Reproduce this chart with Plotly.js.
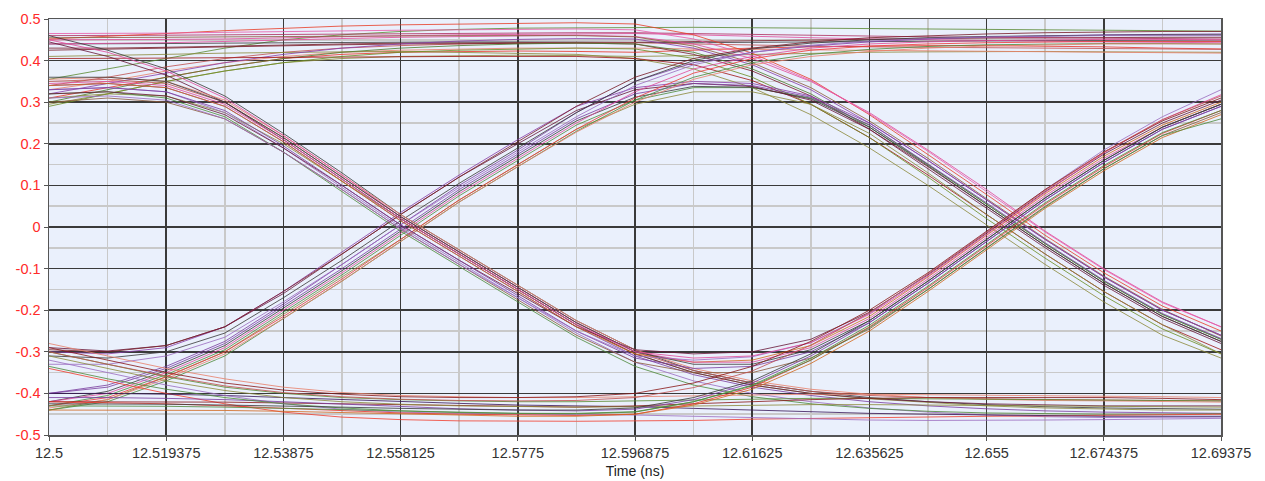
<!DOCTYPE html>
<html>
<head>
<meta charset="utf-8">
<script src="https://cdn.plot.ly/plotly-3.0.1.min.js"></script>
<style>html,body{margin:0;padding:0;background:#fff;}#chart{width:1265px;height:481px;}</style>
</head>
<body>
<div id="chart"></div>
<script>
// Sample times (ns)
const timeNs = [12.5,12.5096875,12.519375,12.5290625,12.53875,12.5484375,12.558125,12.5678125,12.5775,12.5871875,12.596875,12.6065625,12.61625,12.6259375,12.635625,12.6453125,12.655,12.6646875,12.674375,12.6840625,12.69375];

// Axis ticks
const xTickVals = [12.5,12.519375,12.53875,12.558125,12.5775,12.596875,12.61625,12.635625,12.655,12.674375,12.69375];
const xTickText = ["12.5","12.519375","12.53875","12.558125","12.5775","12.596875","12.61625","12.635625","12.655","12.674375","12.69375"];
const yTickVals = [0.5,0.4,0.3,0.2,0.1,0,-0.1,-0.2,-0.3,-0.4,-0.5];
const yTickText = ["0.5","0.4","0.3","0.2","0.1","0","-0.1","-0.2","-0.3","-0.4","-0.5"];

// Pattern 1,1,1 : stays high
const highSteady = [
  [0.355,0.38,0.405,0.43,0.45,0.462,0.47,0.475,0.478,0.479,0.48,0.48,0.479,0.478,0.477,0.476,0.475,0.474,0.473,0.472,0.471],
  [0.45,0.45,0.451,0.452,0.455,0.458,0.46,0.462,0.463,0.464,0.465,0.462,0.458,0.455,0.452,0.45,0.448,0.446,0.445,0.444,0.443],
  [0.43,0.43,0.432,0.435,0.438,0.44,0.442,0.443,0.444,0.444,0.444,0.446,0.448,0.45,0.452,0.453,0.454,0.455,0.455,0.456,0.456],
  [0.31,0.335,0.36,0.385,0.405,0.415,0.42,0.422,0.423,0.422,0.42,0.425,0.43,0.433,0.435,0.436,0.436,0.435,0.433,0.43,0.428],
  [0.295,0.32,0.35,0.375,0.395,0.405,0.41,0.412,0.413,0.412,0.41,0.412,0.415,0.418,0.42,0.421,0.422,0.422,0.421,0.42,0.42],
  [0.44,0.44,0.441,0.442,0.443,0.444,0.445,0.445,0.445,0.444,0.443,0.443,0.444,0.445,0.446,0.447,0.448,0.448,0.448,0.447,0.447],
  [0.33,0.35,0.375,0.395,0.41,0.42,0.425,0.428,0.43,0.43,0.43,0.428,0.427,0.426,0.425,0.424,0.423,0.422,0.421,0.42,0.418],
  [0.46,0.46,0.461,0.462,0.463,0.464,0.465,0.466,0.467,0.467,0.467,0.465,0.462,0.46,0.458,0.457,0.456,0.455,0.454,0.453,0.452],
  [0.34,0.36,0.385,0.405,0.42,0.43,0.436,0.44,0.442,0.443,0.443,0.44,0.437,0.435,0.433,0.432,0.431,0.43,0.429,0.428,0.427]
];
const highSteadyColors = ["#5a8a32","#e04a9a","#7a1f2a","#e8352a","#8c8a3c","#3c3c3c","#e8806a","#b03060","#c05050"];

// Pattern 1,1,0 : high, then falls at second crossing
const highThenFall = [
  [0.452,0.458,0.465,0.472,0.478,0.483,0.486,0.488,0.49,0.491,0.488,0.462,0.418,0.355,0.27,0.175,0.078,-0.02,-0.11,-0.19,-0.25],
  [0.44,0.441,0.443,0.446,0.45,0.453,0.456,0.458,0.46,0.461,0.458,0.44,0.405,0.35,0.275,0.185,0.09,-0.01,-0.1,-0.18,-0.24],
  [0.425,0.427,0.43,0.433,0.436,0.438,0.44,0.441,0.442,0.442,0.44,0.415,0.375,0.315,0.235,0.145,0.05,-0.045,-0.135,-0.215,-0.275],
  [0.41,0.412,0.415,0.418,0.42,0.421,0.422,0.42,0.418,0.415,0.405,0.38,0.335,0.27,0.19,0.1,0.005,-0.09,-0.18,-0.26,-0.315],
  [0.3,0.33,0.36,0.385,0.405,0.42,0.43,0.436,0.44,0.442,0.44,0.42,0.38,0.32,0.24,0.15,0.055,-0.04,-0.13,-0.21,-0.27],
  [0.32,0.345,0.37,0.395,0.415,0.43,0.44,0.447,0.451,0.453,0.452,0.43,0.39,0.33,0.25,0.16,0.065,-0.03,-0.12,-0.2,-0.26],
  [0.455,0.455,0.456,0.457,0.458,0.459,0.46,0.46,0.46,0.46,0.457,0.435,0.395,0.335,0.255,0.165,0.068,-0.028,-0.118,-0.198,-0.262],
  [0.405,0.405,0.406,0.407,0.408,0.409,0.41,0.41,0.41,0.41,0.405,0.39,0.352,0.295,0.215,0.125,0.03,-0.065,-0.155,-0.235,-0.295],
  [0.29,0.32,0.35,0.375,0.395,0.41,0.42,0.425,0.428,0.43,0.428,0.405,0.36,0.295,0.215,0.12,0.02,-0.075,-0.165,-0.245,-0.305],
  [0.465,0.465,0.466,0.468,0.47,0.472,0.473,0.474,0.475,0.476,0.474,0.452,0.412,0.352,0.272,0.182,0.085,-0.012,-0.102,-0.182,-0.24]
];
const highThenFallColors = ["#e8402a","#e04a9a","#7a1f2a","#8c8a3c","#4f7d2e","#8a3fa8","#8b5a3c","#a01818","#6b8e23","#e85aa8"];

// Pattern 0,1,0 : rises, peaks, falls
const riseThenFall = [
  [-0.43,-0.405,-0.355,-0.295,-0.205,-0.115,-0.02,0.075,0.16,0.245,0.305,0.335,0.335,0.31,0.245,0.15,0.055,-0.04,-0.13,-0.21,-0.27],
  [-0.42,-0.395,-0.345,-0.285,-0.195,-0.105,-0.01,0.085,0.17,0.255,0.312,0.338,0.336,0.308,0.24,0.147,0.05,-0.045,-0.135,-0.215,-0.275],
  [-0.30,-0.305,-0.29,-0.24,-0.155,-0.06,0.035,0.125,0.21,0.29,0.335,0.35,0.345,0.315,0.25,0.16,0.065,-0.03,-0.12,-0.2,-0.26],
  [-0.44,-0.415,-0.36,-0.3,-0.21,-0.12,-0.03,0.065,0.15,0.235,0.295,0.325,0.325,0.295,0.225,0.13,0.03,-0.065,-0.155,-0.235,-0.305],
  [-0.29,-0.298,-0.285,-0.24,-0.16,-0.065,0.03,0.12,0.2,0.28,0.33,0.345,0.338,0.305,0.235,0.14,0.045,-0.05,-0.14,-0.22,-0.28],
  [-0.40,-0.385,-0.34,-0.28,-0.19,-0.1,-0.005,0.09,0.175,0.26,0.32,0.345,0.34,0.312,0.245,0.152,0.058,-0.038,-0.128,-0.208,-0.268]
];
const riseThenFallColors = ["#4f8a3c","#3c3c3c","#8a3fa8","#8c8a3c","#6a1a3a","#7b3fa0"];

// Pattern 0,1,1 : rises, stays high
const riseSteady = [
  [-0.40,-0.38,-0.335,-0.275,-0.185,-0.09,0.005,0.1,0.185,0.275,0.35,0.395,0.42,0.435,0.445,0.452,0.457,0.46,0.462,0.463,0.464],
  [-0.295,-0.3,-0.285,-0.24,-0.155,-0.065,0.03,0.12,0.205,0.29,0.36,0.405,0.43,0.445,0.455,0.46,0.464,0.467,0.469,0.47,0.47],
  [-0.43,-0.41,-0.36,-0.3,-0.215,-0.125,-0.03,0.065,0.15,0.235,0.31,0.37,0.405,0.425,0.435,0.44,0.443,0.445,0.446,0.446,0.446],
  [-0.42,-0.4,-0.35,-0.29,-0.2,-0.11,-0.015,0.08,0.165,0.25,0.325,0.38,0.41,0.43,0.44,0.445,0.448,0.45,0.451,0.451,0.45],
  [-0.31,-0.315,-0.3,-0.255,-0.17,-0.08,0.015,0.105,0.19,0.275,0.35,0.4,0.428,0.442,0.45,0.455,0.458,0.46,0.461,0.462,0.462],
  [-0.44,-0.42,-0.37,-0.31,-0.22,-0.13,-0.035,0.06,0.145,0.23,0.305,0.36,0.395,0.415,0.427,0.434,0.438,0.44,0.441,0.441,0.44],
  [-0.33,-0.33,-0.31,-0.265,-0.18,-0.09,0.005,0.095,0.18,0.265,0.34,0.39,0.42,0.437,0.447,0.453,0.457,0.459,0.46,0.46,0.46],
  [-0.435,-0.415,-0.365,-0.305,-0.22,-0.13,-0.035,0.06,0.145,0.228,0.3,0.355,0.39,0.41,0.422,0.43,0.435,0.438,0.44,0.44,0.44]
];
const riseSteadyColors = ["#7b3fa0","#7a1f2a","#ee3b3b","#e04a9a","#3c3c3c","#4f8a3c","#9b6cc0","#e8806a"];

// Pattern 1,0,0 : falls, stays low
const fallSteady = [
  [0.34,0.345,0.335,0.29,0.205,0.11,0.015,-0.07,-0.155,-0.24,-0.31,-0.355,-0.385,-0.405,-0.42,-0.43,-0.437,-0.442,-0.445,-0.447,-0.448],
  [0.46,0.425,0.38,0.315,0.225,0.13,0.03,-0.055,-0.14,-0.225,-0.295,-0.345,-0.375,-0.395,-0.41,-0.42,-0.427,-0.432,-0.435,-0.437,-0.438],
  [0.31,0.32,0.315,0.275,0.2,0.11,0.02,-0.065,-0.15,-0.235,-0.305,-0.35,-0.38,-0.4,-0.413,-0.422,-0.43,-0.435,-0.438,-0.44,-0.44],
  [0.33,0.335,0.325,0.275,0.19,0.095,0.0,-0.085,-0.17,-0.255,-0.325,-0.37,-0.4,-0.42,-0.435,-0.445,-0.452,-0.456,-0.458,-0.458,-0.457],
  [0.35,0.355,0.345,0.3,0.215,0.12,0.025,-0.06,-0.145,-0.23,-0.3,-0.345,-0.375,-0.395,-0.405,-0.41,-0.413,-0.415,-0.416,-0.417,-0.418],
  [0.445,0.41,0.365,0.3,0.21,0.115,0.02,-0.065,-0.15,-0.235,-0.305,-0.35,-0.38,-0.4,-0.412,-0.42,-0.425,-0.428,-0.43,-0.43,-0.43],
  [0.355,0.36,0.35,0.305,0.22,0.125,0.03,-0.055,-0.14,-0.225,-0.295,-0.34,-0.37,-0.39,-0.402,-0.41,-0.414,-0.417,-0.418,-0.42,-0.421],
  [0.32,0.325,0.31,0.265,0.18,0.085,-0.01,-0.095,-0.18,-0.265,-0.335,-0.38,-0.408,-0.425,-0.436,-0.443,-0.447,-0.449,-0.45,-0.45,-0.449]
];
const fallSteadyColors = ["#7b3fa0","#3c3c3c","#8c8a3c","#9b6cc0","#c0504d","#6a1a3a","#e8806a","#4f8a3c"];

// Pattern 1,0,1 : falls, trough, rises
const fallThenRise = [
  [0.32,0.325,0.315,0.27,0.19,0.1,0.005,-0.08,-0.16,-0.24,-0.295,-0.305,-0.3,-0.27,-0.205,-0.115,-0.015,0.085,0.175,0.25,0.305],
  [0.34,0.345,0.335,0.29,0.205,0.11,0.015,-0.07,-0.155,-0.24,-0.305,-0.325,-0.32,-0.285,-0.215,-0.12,-0.02,0.08,0.17,0.245,0.3],
  [0.33,0.335,0.325,0.28,0.195,0.1,0.005,-0.08,-0.165,-0.25,-0.315,-0.34,-0.335,-0.3,-0.23,-0.135,-0.035,0.065,0.155,0.235,0.29],
  [0.45,0.42,0.375,0.31,0.22,0.125,0.025,-0.06,-0.145,-0.23,-0.3,-0.325,-0.325,-0.29,-0.22,-0.125,-0.025,0.075,0.165,0.24,0.295],
  [0.3,0.31,0.3,0.26,0.18,0.09,-0.005,-0.09,-0.175,-0.26,-0.325,-0.35,-0.35,-0.315,-0.245,-0.15,-0.05,0.05,0.14,0.22,0.275],
  [0.36,0.36,0.35,0.3,0.215,0.12,0.025,-0.06,-0.145,-0.23,-0.3,-0.33,-0.33,-0.295,-0.225,-0.13,-0.03,0.07,0.16,0.24,0.295],
  [0.31,0.315,0.305,0.26,0.18,0.09,-0.005,-0.09,-0.17,-0.25,-0.31,-0.32,-0.312,-0.278,-0.208,-0.113,-0.012,0.09,0.185,0.265,0.33],
  [0.345,0.35,0.34,0.295,0.21,0.115,0.02,-0.065,-0.15,-0.235,-0.3,-0.315,-0.31,-0.278,-0.21,-0.118,-0.018,0.083,0.178,0.258,0.318]
];
const fallThenRiseColors = ["#6a1a3a","#d2691e","#7b3fa0","#e04a9a","#8b5a3c","#3c3c3c","#9b6cc0","#e04a9a"];

// Pattern 0,0,0 : stays low
const lowSteady = [
  [-0.34,-0.37,-0.4,-0.425,-0.445,-0.457,-0.463,-0.466,-0.467,-0.467,-0.466,-0.465,-0.462,-0.46,-0.458,-0.456,-0.455,-0.454,-0.453,-0.452,-0.45],
  [-0.30,-0.33,-0.36,-0.385,-0.4,-0.41,-0.415,-0.418,-0.42,-0.42,-0.418,-0.415,-0.413,-0.412,-0.412,-0.413,-0.414,-0.415,-0.416,-0.417,-0.418],
  [-0.40,-0.4,-0.402,-0.405,-0.41,-0.415,-0.42,-0.424,-0.428,-0.43,-0.432,-0.436,-0.44,-0.444,-0.448,-0.45,-0.452,-0.454,-0.455,-0.455,-0.455],
  [-0.42,-0.42,-0.42,-0.421,-0.423,-0.425,-0.428,-0.43,-0.432,-0.433,-0.43,-0.425,-0.42,-0.415,-0.412,-0.41,-0.41,-0.41,-0.41,-0.412,-0.415],
  [-0.28,-0.31,-0.34,-0.365,-0.385,-0.398,-0.405,-0.408,-0.41,-0.41,-0.408,-0.405,-0.403,-0.402,-0.402,-0.403,-0.404,-0.405,-0.406,-0.408,-0.41],
  [-0.32,-0.35,-0.38,-0.405,-0.425,-0.438,-0.445,-0.448,-0.45,-0.451,-0.452,-0.455,-0.459,-0.462,-0.464,-0.465,-0.465,-0.464,-0.463,-0.462,-0.46],
  [-0.31,-0.34,-0.37,-0.393,-0.41,-0.42,-0.426,-0.43,-0.432,-0.433,-0.432,-0.43,-0.428,-0.427,-0.427,-0.428,-0.429,-0.43,-0.431,-0.432,-0.433]
];
const lowSteadyColors = ["#f04030","#5a8a32","#3a1a5a","#8b1a1a","#e8806a","#9b6cc0","#8c8a3c"];

// Pattern 0,0,1 : low, then rises at second crossing
const lowThenRise = [
  [-0.42,-0.422,-0.425,-0.43,-0.436,-0.442,-0.447,-0.45,-0.452,-0.453,-0.45,-0.425,-0.385,-0.32,-0.24,-0.145,-0.045,0.055,0.145,0.225,0.28],
  [-0.41,-0.41,-0.412,-0.415,-0.42,-0.426,-0.432,-0.437,-0.44,-0.442,-0.438,-0.415,-0.375,-0.31,-0.23,-0.135,-0.035,0.065,0.155,0.235,0.29],
  [-0.335,-0.365,-0.39,-0.41,-0.425,-0.435,-0.442,-0.446,-0.448,-0.449,-0.445,-0.42,-0.38,-0.316,-0.236,-0.142,-0.042,0.058,0.148,0.227,0.28],
  [-0.29,-0.32,-0.35,-0.375,-0.392,-0.402,-0.408,-0.41,-0.41,-0.408,-0.4,-0.375,-0.335,-0.275,-0.2,-0.11,-0.01,0.09,0.18,0.255,0.31],
  [-0.44,-0.44,-0.44,-0.441,-0.443,-0.446,-0.45,-0.453,-0.455,-0.455,-0.45,-0.428,-0.39,-0.328,-0.25,-0.155,-0.055,0.045,0.135,0.215,0.27],
  [-0.425,-0.425,-0.426,-0.428,-0.43,-0.433,-0.436,-0.438,-0.44,-0.44,-0.435,-0.41,-0.37,-0.305,-0.225,-0.13,-0.03,0.07,0.16,0.24,0.295],
  [-0.43,-0.43,-0.431,-0.433,-0.436,-0.44,-0.443,-0.446,-0.448,-0.448,-0.444,-0.42,-0.382,-0.32,-0.242,-0.15,-0.052,0.048,0.14,0.22,0.26],
  [-0.30,-0.33,-0.358,-0.382,-0.398,-0.408,-0.414,-0.417,-0.418,-0.417,-0.41,-0.386,-0.346,-0.284,-0.206,-0.113,-0.013,0.088,0.18,0.258,0.315]
];
const lowThenRiseColors = ["#e8352a","#7b3fa0","#4f8a3c","#8b1a1a","#d2691e","#3c3c3c","#4f8a3c","#c05050"];

const groups = [
  [highSteady, highSteadyColors],
  [highThenFall, highThenFallColors],
  [riseThenFall, riseThenFallColors],
  [riseSteady, riseSteadyColors],
  [fallSteady, fallSteadyColors],
  [fallThenRise, fallThenRiseColors],
  [lowSteady, lowSteadyColors],
  [lowThenRise, lowThenRiseColors]
];

const traces = [];
groups.forEach(([rows, cols]) => {
  rows.forEach((ys, i) => {
    traces.push({
      type: 'scatter', mode: 'lines', x: timeNs, y: ys,
      line: {color: cols[i % cols.length], width: 1},
      opacity: 0.82, hoverinfo: 'skip', showlegend: false
    });
  });
});

const layout = {
  width: 1265, height: 481,
  margin: {l: 49, r: 44, t: 19, b: 46},
  paper_bgcolor: '#ffffff',
  plot_bgcolor: '#eaf0fc',
  font: {family: 'Arial, "Liberation Sans", sans-serif', size: 14, color: '#333'},
  showlegend: false,
  xaxis: {
    range: [12.5, 12.69375], autorange: false,
    tickmode: 'array', tickvals: xTickVals, ticktext: xTickText,
    tickfont: {size: 14.5, color: '#333'},
    ticks: 'outside', ticklen: 4, tickcolor: '#555',
    showgrid: true, gridcolor: '#3a3a3a', gridwidth: 1.5,
    minor: {dtick: 0.0096875, tick0: 12.5, showgrid: true, gridcolor: '#c9c9c9', gridwidth: 1.5, ticks: ''},
    showline: true, linecolor: '#555', linewidth: 1.5, mirror: true,
    zeroline: false,
    title: {text: 'Time (ns)', font: {size: 14, color: '#222'}, standoff: 6}
  },
  yaxis: {
    range: [-0.5, 0.5], autorange: false,
    tickmode: 'array', tickvals: yTickVals, ticktext: yTickText,
    tickfont: {size: 14.5, color: '#ff2a2a'},
    ticks: 'outside', ticklen: 4, tickcolor: '#555',
    showgrid: true, gridcolor: '#3a3a3a', gridwidth: 1.5,
    minor: {dtick: 0.05, showgrid: true, gridcolor: '#c9c9c9', gridwidth: 1.5, ticks: ''},
    showline: true, linecolor: '#555', linewidth: 1.5, mirror: true,
    zeroline: false
  }
};

Plotly.newPlot('chart', traces, layout, {displayModeBar: false, staticPlot: true});
</script>
</body>
</html>
